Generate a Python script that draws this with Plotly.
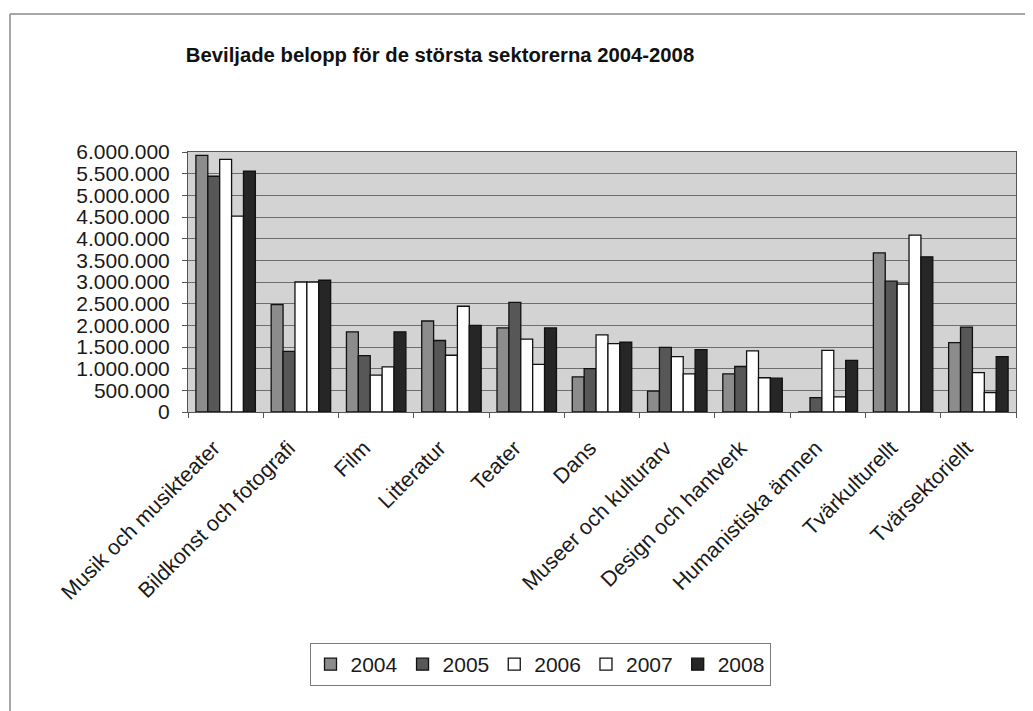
import plotly.graph_objects as go

categories = ["Musik och musikteater", "Bildkonst och fotografi", "Film", "Litteratur",
              "Teater", "Dans", "Museer och kulturarv", "Design och hantverk",
              "Humanistiska ämnen", "Tvärkulturellt", "Tvärsektoriellt"]
years = ["2004", "2005", "2006", "2007", "2008"]

v2004 = [5920000, 2480000, 1850000, 2100000, 1940000, 810000, 480000, 880000, 0, 3670000, 1600000]
v2005 = [5440000, 1400000, 1300000, 1650000, 2530000, 1000000, 1490000, 1050000, 330000, 3020000, 1960000]
v2006 = [5830000, 3000000, 850000, 1310000, 1680000, 1780000, 1280000, 1410000, 1420000, 2950000, 910000]
v2007 = [4520000, 3000000, 1040000, 2440000, 1100000, 1580000, 880000, 790000, 350000, 4080000, 450000]
v2008 = [5560000, 3040000, 1850000, 2000000, 1940000, 1610000, 1440000, 780000, 1190000, 3580000, 1280000]

series = [v2004, v2005, v2006, v2007, v2008]
colors = ["#8c8c8c", "#575757", "#ffffff", "#ffffff", "#262626"]

fig = go.Figure()
for name, vals, col in zip(years, series, colors):
    fig.add_trace(go.Bar(
        x=categories, y=vals, name=name,
        marker=dict(color=col, line=dict(color="#111111", width=1.3)),
    ))

# page body has an 8px margin; positions below are in figure pixels
OFF = 8
W, H = 1033 - OFF, 711 - OFF
L, R, T, B = 188 - OFF, 17, 152 - OFF, 299
pw, ph = W - L - R, H - T - B

def px_x(x):
    return (x - OFF - L) / pw

def px_y(y):
    return (H - B - (y - OFF)) / ph

fig.update_layout(
    width=W, height=H,
    margin=dict(l=L, r=R, t=T, b=B, autoexpand=False),
    paper_bgcolor="white",
    plot_bgcolor="#d3d3d3",
    barmode="group",
    bargap=0.21,
    bargroupgap=0,
    separators=",.",
    font=dict(family="Liberation Sans, Arial, sans-serif", size=21, color="#1a1a1a"),
    title=dict(
        text="<b>Beviljade belopp för de största sektorerna 2004-2008</b>",
        font=dict(size=20.3, color="#111111"),
        xref="container", x=(440 - OFF) / W, xanchor="center",
        yref="container", y=1 - (55 - OFF) / H, yanchor="middle",
    ),
    legend=dict(
        orientation="h",
        x=px_x(540), xanchor="center",
        y=px_y(643), yanchor="top",
        bordercolor="#7a7a7a", borderwidth=1,
        bgcolor="white",
        font=dict(size=21),
        traceorder="normal",
    ),
    showlegend=True,
)

fig.update_xaxes(
    type="category",
    tickangle=-45,
    ticks="outside", tickson="boundaries", ticklen=5, tickcolor="#555555",
    showline=True, linecolor="#555555", linewidth=1,
    mirror=True,
    showgrid=False,
    automargin=False,
    ticklabelstandoff=14,
    ticklabelshift=-12,
    tickfont=dict(size=21.5),
)
fig.update_yaxes(
    range=[0, 6000000], dtick=500000, tick0=0,
    tickformat=",d",
    ticks="outside", ticklen=5, tickcolor="#555555",
    showline=True, linecolor="#555555", linewidth=1, mirror=True,
    showgrid=True, gridcolor="#6e6e6e", gridwidth=1,
    zeroline=False,
    automargin=False,
    ticklabelstandoff=8,
    tickfont=dict(size=21),
)

# outer chart border (top and left edges visible in the reference)
fig.add_shape(type="line", xref="paper", yref="paper",
              x0=px_x(10), x1=px_x(1040), y0=px_y(14), y1=px_y(14),
              line=dict(color="#8a8a8a", width=1.5))
fig.add_shape(type="line", xref="paper", yref="paper",
              x0=px_x(10), x1=px_x(10), y0=px_y(14), y1=px_y(720),
              line=dict(color="#8a8a8a", width=1.5))

fig.write_html("out.html")
